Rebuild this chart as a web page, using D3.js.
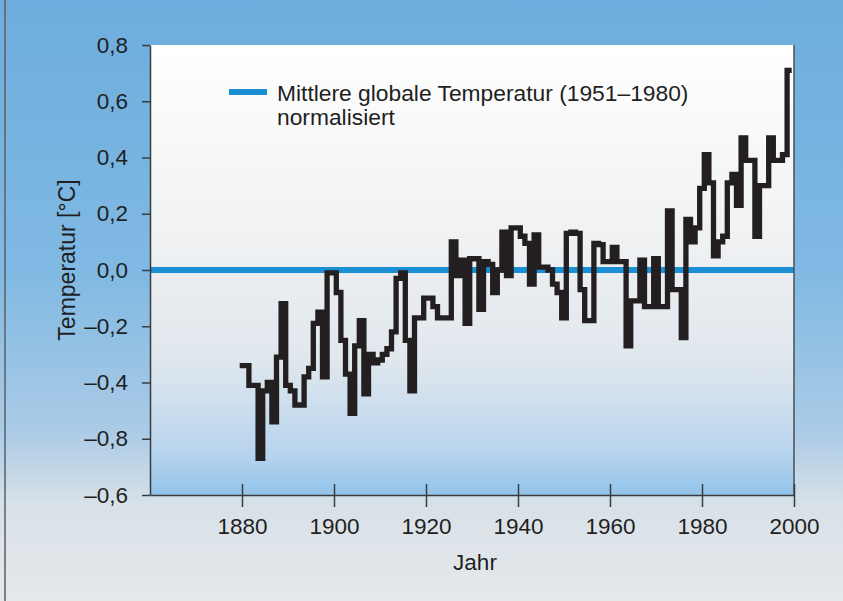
<!DOCTYPE html>
<html>
<head>
<meta charset="utf-8">
<script src="https://cdn.jsdelivr.net/npm/d3@7"></script>
<style>
  body { margin: 0; background: #e6e8ea; }
  svg { display: block; font-family: "Liberation Sans", Arial, Helvetica, sans-serif; }
</style>
</head>
<body>
<div id="wrapper"></div>
<script>
// Jahre und Abweichungen
const years = d3.range(1880, 2000);
const anomalies = [
  -0.34, -0.34, -0.41, -0.41, -0.67, -0.43, -0.40, -0.54, -0.31, -0.12,
  -0.41, -0.43, -0.48, -0.48, -0.38, -0.35, -0.19, -0.15, -0.38, -0.01,
  -0.01, -0.08, -0.25, -0.37, -0.51, -0.27, -0.18, -0.44, -0.30, -0.33,
  -0.32, -0.30, -0.28, -0.22, -0.03, -0.01, -0.25, -0.43, -0.17, -0.17,
  -0.10, -0.10, -0.13, -0.17, -0.17, -0.17, 0.10, -0.02, 0.035, -0.19,
  0.04, 0.04, -0.14, 0.03, 0.02, -0.08, 0.00, 0.135, -0.02, 0.15,
  0.15, 0.12, 0.095, -0.05, 0.125, 0.01, 0.01, 0.00, -0.05, -0.08,
  -0.17, 0.13, 0.135, 0.13, -0.07, -0.18, -0.18, 0.095, 0.09, 0.03,
  0.03, 0.08, 0.03, 0.03, -0.27, -0.11, -0.11, 0.035, -0.13, -0.13,
  0.04, -0.13, -0.13, 0.21, -0.07, -0.07, -0.24, 0.18, 0.10, 0.15,
  0.29, 0.41, 0.31, 0.05, 0.10, 0.12, 0.31, 0.34, 0.23, 0.47,
  0.39, 0.39, 0.12, 0.30, 0.30, 0.47, 0.39, 0.39, 0.41, 0.71
];
const xTicks = [1880, 1900, 1920, 1940, 1960, 1980, 2000];
const yTicks = [0.8, 0.6, 0.4, 0.2, 0.0, -0.2, -0.4, -0.6, -0.8];
const yTickLabels = ["0,8", "0,6", "0,4", "0,2", "0,0", "–0,2", "–0,4", "–0,8", "–0,6"];
const baseline = 0;
const legendLines = ["Mittlere globale Temperatur (1951–1980)", "normalisiert"];

const dimension = {
    width: 843,
    height: 601,
    margin: { top: 45, left: 150, bottom: 106, right: 49 }
};
dimension.boundedWidth = dimension.width - dimension.margin.left - dimension.margin.right;
dimension.boundedHeight = dimension.height - dimension.margin.top - dimension.margin.bottom;

const svg = d3.select("#wrapper").append("svg")
    .attr("width", dimension.width)
    .attr("height", dimension.height);

const defs = svg.append("defs");
const bgGrad = defs.append("linearGradient").attr("id", "bg")
    .attr("x1", 0).attr("y1", 0).attr("x2", 0).attr("y2", 1);
[[0, "#6eaddd"], [0.45, "#80b9e3"], [0.72, "#abcbe6"], [0.84, "#d8e1e8"], [1, "#e6e8ea"]]
    .forEach(s => bgGrad.append("stop").attr("offset", s[0]).attr("stop-color", s[1]));
const plotGrad = defs.append("linearGradient").attr("id", "plotbg")
    .attr("x1", 0).attr("y1", 0).attr("x2", 0).attr("y2", 1);
[[0, "#ffffff"], [0.4, "#f1f2f3"], [0.7, "#e0e7ed"], [0.9, "#b9d5ee"], [1, "#92c4ea"]]
    .forEach(s => plotGrad.append("stop").attr("offset", s[0]).attr("stop-color", s[1]));

svg.append("rect").attr("width", dimension.width).attr("height", dimension.height)
    .attr("fill", "url(#bg)");
svg.append("line").attr("x1", 5).attr("x2", 5).attr("y1", 0).attr("y2", dimension.height)
    .attr("stroke", "#5a5f63").attr("stroke-width", 1.5);

const bounded = svg.append("g")
    .attr("transform", `translate(${dimension.margin.left},${dimension.margin.top})`);

bounded.append("rect")
    .attr("width", dimension.boundedWidth).attr("height", dimension.boundedHeight)
    .attr("fill", "url(#plotbg)");

const xScaler = d3.scaleLinear().domain([1860, 2000]).range([0, dimension.boundedWidth]);
const yScaler = d3.scaleLinear().domain([-0.8, 0.8]).range([dimension.boundedHeight, 0]);

// Nulllinie
bounded.append("line")
    .attr("x1", 0).attr("x2", dimension.boundedWidth)
    .attr("y1", yScaler(baseline)).attr("y2", yScaler(baseline))
    .attr("stroke", "#1a8fd3").attr("stroke-width", 6);

// Stufenlinie, jede Stufe ein Jahr
const points = years.map((yr, i) => [xScaler(yr - 0.5), yScaler(anomalies[i])]);
points.push([xScaler(years[years.length - 1] + 0.5), yScaler(anomalies[anomalies.length - 1])]);
const lineGenerator = d3.line().curve(d3.curveStepAfter);
bounded.append("path")
    .attr("d", lineGenerator(points))
    .attr("fill", "none")
    .attr("stroke", "#231f20")
    .attr("stroke-width", 5.3)
    .attr("stroke-linejoin", "miter");

// rechter Rand
bounded.append("line")
    .attr("x1", dimension.boundedWidth).attr("x2", dimension.boundedWidth)
    .attr("y1", 0).attr("y2", dimension.boundedHeight)
    .attr("stroke", "#4a4f53").attr("stroke-width", 1.5);

const yAxisGenerator = d3.axisLeft(yScaler)
    .tickValues(yTicks)
    .tickFormat((d, i) => yTickLabels[i])
    .tickSize(8).tickSizeOuter(0).tickPadding(14);
bounded.append("g").call(yAxisGenerator);

const xAxisGenerator = d3.axisBottom(xScaler)
    .tickValues(xTicks)
    .tickFormat(d3.format("d"))
    .tickSize(12).tickSizeOuter(0).tickPadding(11);
bounded.append("g")
    .attr("transform", `translate(0,${dimension.boundedHeight})`)
    .call(xAxisGenerator);
bounded.append("g")
    .attr("transform", `translate(0,${dimension.boundedHeight})`)
    .call(d3.axisBottom(xScaler).tickValues(xTicks).tickSize(-11).tickFormat(""))
    .call(g => g.select(".domain").remove());

bounded.selectAll(".domain, .tick line")
    .attr("stroke", "#3a3d40").attr("stroke-width", 1.5);
bounded.selectAll(".tick text")
    .attr("font-family", "'Liberation Sans', Arial, sans-serif")
    .attr("font-size", 22.5)
    .attr("fill", "#1f1f1f");

// Achsentitel
svg.append("text")
    .attr("transform", "translate(75,260) rotate(-90)")
    .attr("text-anchor", "middle")
    .attr("font-size", 23).attr("fill", "#1f1f1f")
    .text("Temperatur [°C]");
svg.append("text")
    .attr("x", 475).attr("y", 570)
    .attr("text-anchor", "middle")
    .attr("font-size", 22.5).attr("fill", "#1f1f1f")
    .text("Jahr");

// Legende
svg.append("line")
    .attr("x1", 229).attr("x2", 267).attr("y1", 92).attr("y2", 92)
    .attr("stroke", "#1a8fd3").attr("stroke-width", 6);
svg.append("text")
    .attr("x", 277).attr("y", 101)
    .attr("font-size", 22.8).attr("fill", "#1f1f1f")
    .selectAll("tspan").data(legendLines).join("tspan")
    .attr("x", 277).attr("dy", (d, i) => i === 0 ? 0 : 24)
    .text(d => d);
</script>
</body>
</html>
